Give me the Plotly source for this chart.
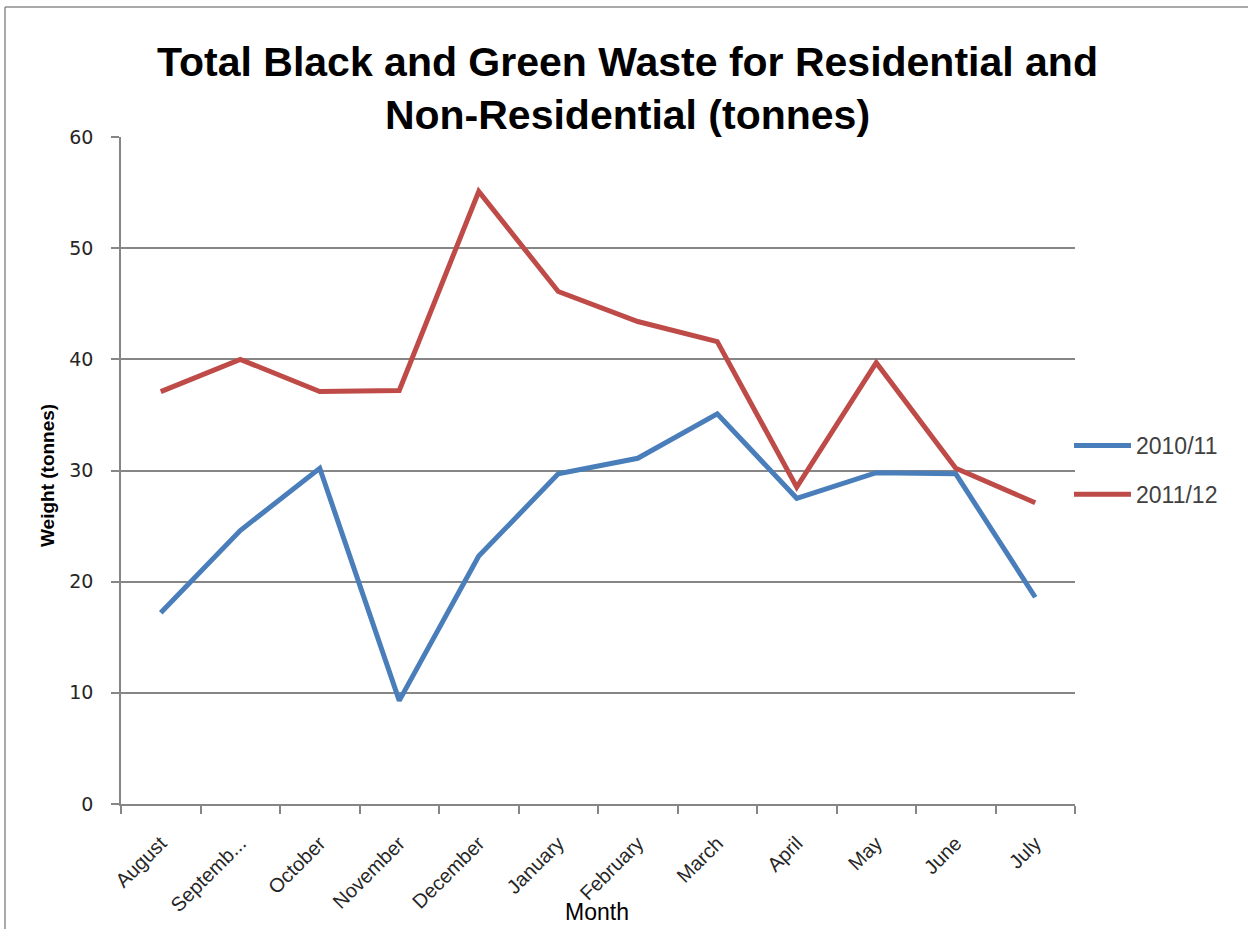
import plotly.graph_objects as go

months = ["August", "September", "October", "November", "December", "January",
          "February", "March", "April", "May", "June", "July"]
month_labels = ["August", "Septemb...", "October", "November", "December", "January",
                "February", "March", "April", "May", "June", "July"]
waste_2010_11 = [17.2, 24.6, 30.2, 9.3, 22.3, 29.7, 31.1, 35.1, 27.5, 29.8, 29.7, 18.6]
waste_2011_12 = [37.1, 40.0, 37.1, 37.2, 55.1, 46.1, 43.4, 41.6, 28.5, 39.7, 30.2, 27.1]
y_ticks = [0, 10, 20, 30, 40, 50, 60]

W, H = 1248, 929
L, R, T, B = 121, 1075, 137, 804

fig = go.Figure()
fig.add_trace(go.Scatter(x=months, y=waste_2010_11, mode="lines", name="2010/11",
                         legendgroup="a",
                         line=dict(color="#4a7ebb", width=5)))
fig.add_trace(go.Scatter(x=months, y=waste_2011_12, mode="lines", name="2011/12",
                         legendgroup="b",
                         line=dict(color="#be4b48", width=5)))

def px_x(px):
    return (px - L) / (R - L)

def px_y(py):
    return (B - py) / (B - T)

FONT = "Liberation Sans, Arial, sans-serif"

fig.update_layout(
    width=W, height=H,
    margin=dict(l=L, r=W - R, t=T, b=H - B),
    paper_bgcolor="white", plot_bgcolor="white",
    font=dict(family=FONT, color="#262626"),
    showlegend=True,
    legend=dict(x=px_x(1069), y=px_y(470), xanchor="left", yanchor="middle",
                font=dict(size=23, color="#404040"), tracegroupgap=16,
                itemwidth=57,
                traceorder="grouped", bgcolor="rgba(0,0,0,0)"),
    xaxis=dict(type="category", categoryorder="array", categoryarray=months,
               tickmode="array", tickvals=months, ticktext=month_labels,
               range=[-0.5, 11.5], tickson="boundaries",
               ticks="outside", ticklen=8, tickcolor="#868686", tickwidth=1.5,
               showline=True, linecolor="#868686", linewidth=1.5,
               showgrid=False, tickangle=-45, zeroline=False,
               ticklabelstandoff=18,
               tickfont=dict(size=20, color="#262626")),
    yaxis=dict(range=[0, 60], tickmode="array", tickvals=y_ticks,
               ticks="outside", ticklen=8, tickcolor="#868686", tickwidth=1.5,
               showline=True, linecolor="#868686", linewidth=1.5,
               showgrid=True, gridcolor="#868686", gridwidth=1.5, zeroline=False,
               ticklabelstandoff=14,
               tickfont=dict(size=19, color="#262626", family="DejaVu Sans")),
    annotations=[
        dict(text="<b>Total Black and Green Waste for Residential and<br>Non-Residential (tonnes)</b>",
             x=px_x(627), y=px_y(89), xref="paper", yref="paper",
             showarrow=False, xanchor="center", yanchor="middle",
             font=dict(size=41, color="black", family=FONT)),
        dict(text="<b>Weight (tonnes)</b>", x=px_x(47), y=px_y(476), xref="paper", yref="paper",
             textangle=-90, showarrow=False, xanchor="center", yanchor="middle",
             font=dict(size=19, color="black")),
        dict(text="Month", x=px_x(597), y=px_y(912), xref="paper", yref="paper",
             showarrow=False, xanchor="center", yanchor="middle",
             font=dict(size=23, color="black")),
    ],
    shapes=[
        dict(type="line", xref="paper", yref="paper", x0=px_x(5), x1=px_x(5),
             y0=px_y(7), y1=px_y(940), line=dict(color="#8c8c8c", width=1.5)),
        dict(type="line", xref="paper", yref="paper", x0=px_x(5), x1=px_x(1260),
             y0=px_y(7), y1=px_y(7), line=dict(color="#8c8c8c", width=1.5)),
    ],
)

fig.write_html("out.html", config={"displayModeBar": False},
               post_script="document.body.style.margin='0';document.body.style.overflow='hidden';")
